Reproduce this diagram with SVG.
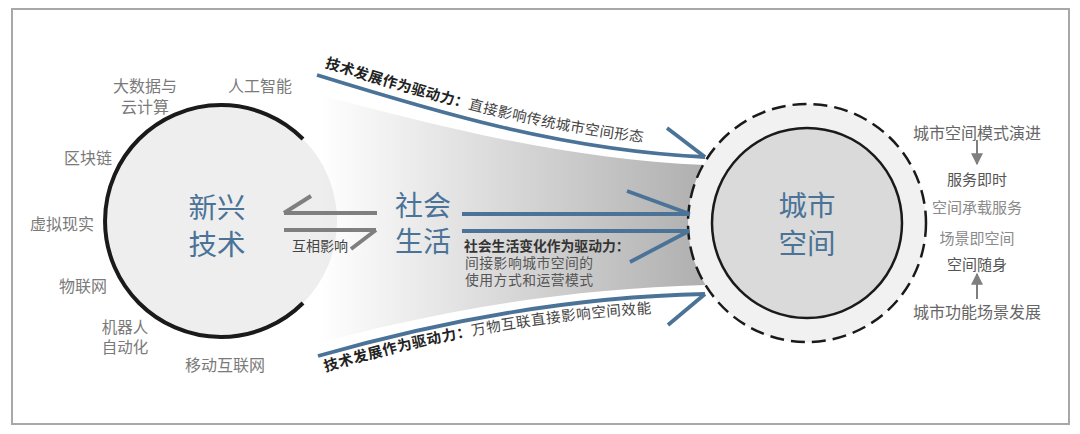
<svg xmlns="http://www.w3.org/2000/svg" xmlns:xlink="http://www.w3.org/1999/xlink" width="1080" height="434" viewBox="0 0 1080 434">
<defs>
<style>
text{font-family:"Noto Sans CJK SC","Noto Sans",sans-serif;}
.lbl{font-size:16px;fill:#7a7a7a;text-anchor:middle;dominant-baseline:central;}
.big{font-size:28.5px;fill:#4b7398;text-anchor:middle;dominant-baseline:central;}
.blue{fill:none;stroke:#4b7398;stroke-width:3.8;}
.gray{fill:none;stroke:#7f7f7f;stroke-width:4;}
.cap{font-size:14px;fill:#444;}
.capb{font-weight:bold;fill:#222;}
.rt{font-size:15px;text-anchor:middle;dominant-baseline:central;}
</style>
<linearGradient id="fun" gradientUnits="userSpaceOnUse" x1="320" y1="0" x2="700" y2="0">
<stop offset="0" stop-color="#b0b0b0" stop-opacity="0"/>
<stop offset="1" stop-color="#b0b0b0" stop-opacity="1"/>
</linearGradient>
<path id="tp1" d="M317,65 C430,100 560,140 705,147"/>
<path id="tp2" d="M318,374 C430,340 560,314 705,311"/>
<marker id="tri" viewBox="0 0 10 10" refX="9" refY="5" markerWidth="12" markerHeight="12" markerUnits="userSpaceOnUse" orient="auto">
<path d="M0,0 L10,5 L0,10 Z" fill="#7f7f7f"/>
</marker>
</defs>
<rect x="12" y="9" width="1057" height="415" fill="#ffffff" stroke="#a8a8a8" stroke-width="2"/>

<g id="node-tech">
<circle cx="221" cy="221" r="116" fill="#eeeeee"/>
</g>

<g id="funnel">
<path d="M300,90 C430,124 560,159 705,165 L705,285 C560,289 430,312 300,348 Z" fill="url(#fun)"/>
</g>

<g id="node-tech-ring">
<path d="M303,139 A116,116 0 1 0 303,303" fill="none" stroke="#1a1a1a" stroke-width="4"/>
<text class="big" x="217" y="205">新兴</text>
<text class="big" x="217" y="242">技术</text>
<text class="lbl" x="145" y="85">大数据与</text>
<text class="lbl" x="145" y="106">云计算</text>
<text class="lbl" x="260" y="85">人工智能</text>
<text class="lbl" x="88" y="157">区块链</text>
<text class="lbl" x="62" y="223">虚拟现实</text>
<text class="lbl" x="83" y="285">物联网</text>
<text class="lbl" x="125" y="326" style="font-size:15.5px">机器人</text>
<text class="lbl" x="125" y="346" style="font-size:15.5px">自动化</text>
<text class="lbl" x="225" y="364">移动互联网</text>
</g>

<g id="node-city">
<circle cx="807" cy="223" r="119" fill="#f1f1f1" stroke="#1a1a1a" stroke-width="2.5" stroke-dasharray="14,7"/>
<circle cx="807" cy="223" r="95" fill="#dadada" stroke="#1a1a1a" stroke-width="2.5"/>
<text class="big" x="807" y="203">城市</text>
<text class="big" x="807" y="241">空间</text>
</g>

<g id="node-social">
<text class="big" x="423" y="204" style="font-size:28px">社会</text>
<text class="big" x="423" y="240" style="font-size:28px">生活</text>
</g>

<g id="connectors">
<path class="blue" d="M317,75 C430,110 560,150 705,157"/>
<path class="blue" d="M667,128 L705,157"/>
<path class="blue" d="M318,356 C430,324 560,297 705,294"/>
<path class="blue" d="M668,325 L705,294"/>
<path class="blue" d="M462,214 L690,214 M627,191 L690,214"/>
<path class="blue" d="M462,231 L689,231 M630,262 L689,231"/>
<path class="gray" d="M284,213 L377,213 M311,196 L284,213"/>
<path class="gray" d="M284,230 L376,230 M376,230 L351,249"/>
<path d="M977,140 L977,164" stroke="#7f7f7f" stroke-width="2" marker-end="url(#tri)"/>
<path d="M977,299 L977,274" stroke="#7f7f7f" stroke-width="2" marker-end="url(#tri)"/>
</g>

<g id="labels">
<text class="cap" style="font-size:14.5px;letter-spacing:0.4px"><textPath xlink:href="#tp1" href="#tp1" startOffset="8"><tspan class="capb">技术发展作为驱动力：</tspan>直接影响传统城市空间形态</textPath></text>
<text class="cap" style="font-size:14.5px;letter-spacing:0.6px"><textPath xlink:href="#tp2" href="#tp2" startOffset="8"><tspan class="capb">技术发展作为驱动力：</tspan>万物互联直接影响空间效能</textPath></text>
<text class="cap" x="320" y="245" text-anchor="middle" dominant-baseline="central">互相影响</text>
<text class="cap" x="464" y="251" style="font-size:13.8px"><tspan class="capb" style="fill:#333">社会生活变化作为驱动力：</tspan></text>
<text class="cap" x="465" y="268" style="fill:#555;font-size:13.8px;letter-spacing:0.5px">间接影响城市空间的</text>
<text class="cap" x="465" y="285" style="fill:#555;font-size:13.8px;letter-spacing:0.5px">使用方式和运营模式</text>
</g>

<g id="node-right-notes">
<text class="rt" x="977" y="132" style="font-size:16px;fill:#666">城市空间模式演进</text>
<text class="rt" x="977" y="178" style="fill:#555">服务即时</text>
<text class="rt" x="977" y="206" style="fill:#8a8a8a">空间承载服务</text>
<text class="rt" x="977" y="237" style="fill:#8a8a8a">场景即空间</text>
<text class="rt" x="977" y="263" style="fill:#555">空间随身</text>
<text class="rt" x="977" y="311" style="font-size:16px;fill:#666">城市功能场景发展</text>
</g>
</svg>
